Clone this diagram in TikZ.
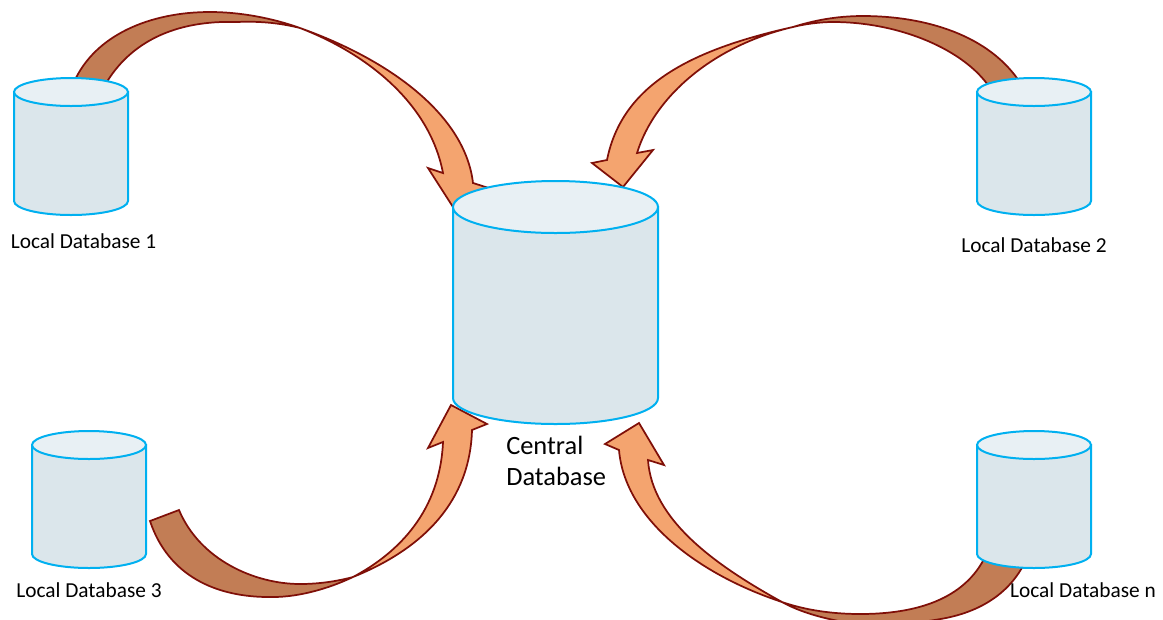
\documentclass[tikz,border=0pt]{standalone}
\usepackage{fontspec}
\setmainfont{Carlito}
\definecolor{cylline}{HTML}{00B0F0}
\definecolor{cylbody}{HTML}{DBE6EB}
\definecolor{cylend}{HTML}{E8F0F4}
\definecolor{arrline}{HTML}{7F0F08}
\definecolor{arrhead}{HTML}{F4A46F}
\definecolor{arrtail}{HTML}{C27D55}
\tikzset{
  cylbodyline/.style={draw=cylline, fill=cylbody, line width=1.5pt},
  cylendline/.style={draw=cylline, fill=cylend, line width=1.5pt},
  headpart/.style={draw=arrline, fill=arrhead, line width=1.3pt, line join=miter},
  tailpart/.style={draw=arrline, fill=arrtail, line width=1.3pt, line join=miter},
  dblabel/.style={font=\fontsize{16}{19}\selectfont, text=black, inner sep=0pt}
}
% name, centre x, top y, half width, height, ellipse y radius
\newcommand{\dbcylinder}[6]{%
  \begin{scope}[shift={(#2,#3)}]
    \coordinate (#1) at (0,#5/2);
    \draw[cylbodyline] (-#4,#6) -- (-#4,#5-#6)
      arc[start angle=180,end angle=0,x radius=#4,y radius=#6] -- (#4,#6) -- cycle;
    \draw[cylendline] (0,#6) ellipse[x radius=#4,y radius=#6];
  \end{scope}}
\begin{document}
\begin{tikzpicture}[x=0.75pt,y=-0.75pt]
\useasboundingbox (0,0) rectangle (1163,619);
\begin{scope}
\clip (0,0) rectangle (1163,619);
% arrow 1
\draw[headpart] (300,28) .. controls (390,60) and (465,115) .. (473,183)
  -- (495,190) -- (453,207) -- (428,168) -- (443,173)
  .. controls (430,105) and (370,55) .. (300,28) -- cycle;
\draw[tailpart] (74,82) .. controls (95,35) and (150,12) .. (210,12)
  .. controls (240,12) and (272,18) .. (300,28)
  .. controls (280,23) and (260,21) .. (237,22)
  .. controls (175,20) and (130,42) .. (105,85) -- cycle;
% arrow 2
\draw[headpart] (793,27) .. controls (690,50) and (622,85) .. (607,160)
  -- (592,163) -- (623,187) -- (653,150) -- (637,153)
  .. controls (655,95) and (715,45) .. (793,27) -- cycle;
\draw[tailpart] (793,27) .. controls (812,21) and (835,16) .. (863,16)
  .. controls (925,16) and (990,35) .. (1021,84)
  -- (990,88) .. controls (965,50) and (900,22) .. (833,22)
  .. controls (820,22) and (805,24) .. (793,27) -- cycle;
% arrow 3
\draw[headpart] (353,577) .. controls (425,548) and (470,500) .. (472,430)
  -- (487,424) -- (451,405) -- (428,448) -- (443,442)
  .. controls (440,510) and (400,552) .. (353,577) -- cycle;
\draw[tailpart] (179,510) .. controls (200,560) and (255,584) .. (300,584)
  .. controls (320,584) and (338,581) .. (353,577)
  .. controls (330,588) and (300,597) .. (273,597)
  .. controls (215,598) and (168,575) .. (150,521) -- cycle;
% arrow n
\draw[headpart] (782,602) .. controls (700,575) and (625,520) .. (619,450)
  -- (605,444) -- (639,423) -- (664,465) -- (648,460)
  .. controls (652,520) and (715,565) .. (782,602) -- cycle;
\draw[tailpart] (782,602) .. controls (805,610) and (832,614) .. (860,614)
  .. controls (915,614) and (965,600) .. (986,555)
  -- (1026,560) .. controls (1012,590) and (985,610) .. (946,618)
  .. controls (925,622) and (900,625) .. (880,625)
  .. controls (845,625) and (805,615) .. (782,602) -- cycle;
\end{scope}
% databases
\dbcylinder{db1}{71}{78}{57}{137}{14}
\dbcylinder{db2}{1034}{78}{57}{137}{14}
\dbcylinder{db3}{89}{431}{57}{137}{14}
\dbcylinder{dbn}{1034}{431}{57}{137}{14}
\dbcylinder{central}{555.5}{181}{102.5}{243}{26}
% labels
\node[dblabel] (l1) at (83.5,241) {Local Database 1};
\node[dblabel] (l2) at (1034,245) {Local Database 2};
\node[dblabel] (l3) at (89,590) {Local Database 3};
\node[dblabel] (ln) at (1083,590) {Local Database n};
\node[dblabel, font=\fontsize{19.8}{23.25}\selectfont, align=left, anchor=north west] (lc) at (506,436) {Central\\Database};
\end{tikzpicture}
\end{document}
